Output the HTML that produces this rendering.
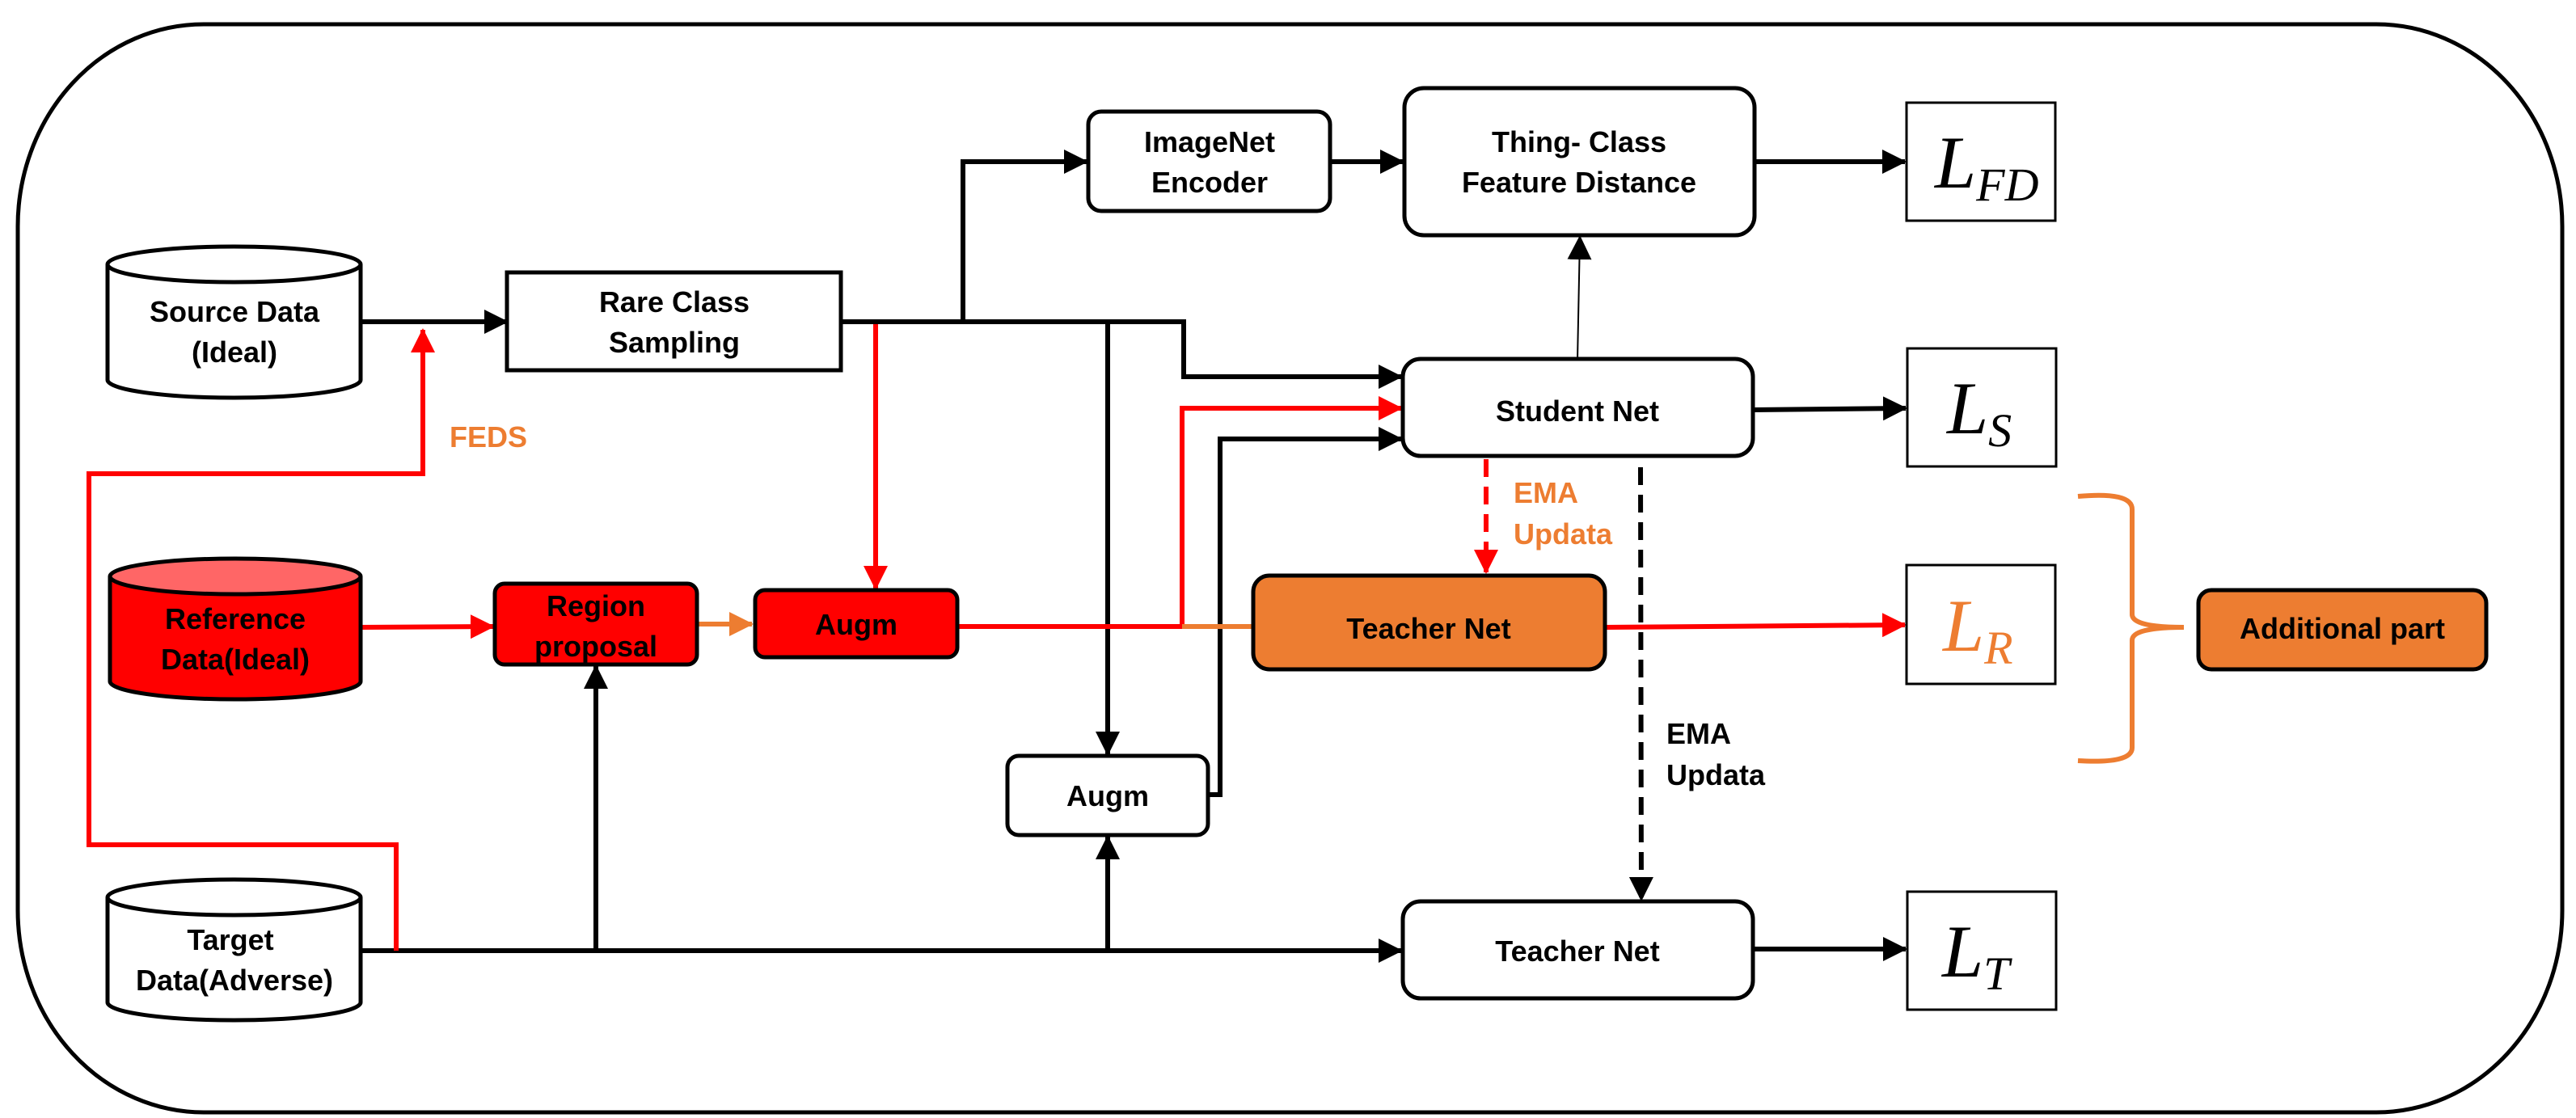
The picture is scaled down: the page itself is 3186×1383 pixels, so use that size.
<!DOCTYPE html>
<html><head><meta charset="utf-8"><style>
html,body{margin:0;padding:0;background:#fff;}
svg{display:block;}
text{font-family:"Liberation Sans",sans-serif;font-weight:bold;}
.m{font-family:"Liberation Serif",serif;font-style:italic;font-weight:normal;}
</style></head><body>
<svg width="3186" height="1383" viewBox="0 0 3186 1383" xmlns="http://www.w3.org/2000/svg">
<defs>
<marker id="ab" markerUnits="userSpaceOnUse" markerWidth="30" markerHeight="30" refX="28" refY="15" orient="auto"><path d="M0,0 L30,15 L0,30 Z" fill="#000"/></marker>
<marker id="ar" markerUnits="userSpaceOnUse" markerWidth="30" markerHeight="30" refX="28" refY="15" orient="auto"><path d="M0,0 L30,15 L0,30 Z" fill="#f00"/></marker>
<marker id="ao" markerUnits="userSpaceOnUse" markerWidth="30" markerHeight="30" refX="28" refY="15" orient="auto"><path d="M0,0 L30,15 L0,30 Z" fill="#ed7d31"/></marker>
</defs>
<!-- outer -->
<rect x="22" y="30" width="3147" height="1346" rx="230" ry="250" fill="none" stroke="#000" stroke-width="5"/>

<!-- connectors black -->
<g fill="none" stroke="#000" stroke-width="6">
<line x1="446" y1="398" x2="627" y2="398" marker-end="url(#ab)"/>
<polyline points="1040,398 1464,398 1464,466 1733,466" marker-end="url(#ab)"/>
<polyline points="1191,398 1191,200 1344,200" marker-end="url(#ab)"/>
<line x1="1370" y1="398" x2="1370" y2="933" marker-end="url(#ab)"/>
<polyline points="1494,983 1509,983 1509,543 1733,543" marker-end="url(#ab)"/>
<line x1="446" y1="1176" x2="1733" y2="1176" marker-end="url(#ab)"/>
<line x1="737" y1="1176" x2="737" y2="824" marker-end="url(#ab)"/>
<line x1="1370" y1="1176" x2="1370" y2="1035" marker-end="url(#ab)"/>
<line x1="1645" y1="200" x2="1735" y2="200" marker-end="url(#ab)"/>
<line x1="2170" y1="200" x2="2356" y2="200" marker-end="url(#ab)"/>
<line x1="2168" y1="507" x2="2357" y2="505" marker-end="url(#ab)"/>
<line x1="2168" y1="1174" x2="2357" y2="1174" marker-end="url(#ab)"/>
<line x1="2029" y1="578" x2="2030" y2="1113" stroke-dasharray="22,12" marker-end="url(#ab)"/>
</g>
<line x1="1951" y1="446" x2="1954" y2="293" stroke="#000" stroke-width="2" marker-end="url(#ab)"/>

<!-- red connectors -->
<g fill="none" stroke="#f00" stroke-width="6">
<polyline points="490,1176 490,1045 110,1045 110,586 523,586 523,408" marker-end="url(#ar)"/>
<line x1="446" y1="776" x2="610" y2="775" marker-end="url(#ar)"/>
<line x1="1083" y1="401" x2="1083" y2="728" marker-end="url(#ar)"/>
<polyline points="1184,775 1462,775 1462,505 1733,505" marker-end="url(#ar)"/>
<line x1="1838" y1="568" x2="1838" y2="708" stroke-dasharray="22,12" marker-end="url(#ar)"/>
<line x1="1985" y1="776" x2="2356" y2="773" marker-end="url(#ar)"/>
</g>
<g fill="none" stroke="#ed7d31" stroke-width="6">
<line x1="862" y1="772" x2="930" y2="772" marker-end="url(#ao)"/>
<line x1="1462" y1="775" x2="1552" y2="775"/>
<path d="M2570,614 Q2637,608 2637,630 L2637,760 Q2637,776 2701,776 Q2637,776 2637,792 L2637,925 Q2637,945 2570,941"/>
</g>

<!-- cylinders -->
<g stroke="#000" stroke-width="5">
<path d="M133,327 L133,470 A156.5,22 0 0 0 446,470 L446,327" fill="#fff"/>
<ellipse cx="289.5" cy="327" rx="156.5" ry="22" fill="#fff"/>
<path d="M136,713 L136,843 A155,22 0 0 0 446,843 L446,713" fill="#f00"/>
<ellipse cx="291" cy="713" rx="155" ry="22" fill="#ff6666"/>
<path d="M133,1110 L133,1240 A156.5,22 0 0 0 446,1240 L446,1110" fill="#fff"/>
<ellipse cx="289.5" cy="1110" rx="156.5" ry="22" fill="#fff"/>
</g>

<!-- boxes -->
<g stroke="#000" stroke-width="5">
<rect x="627" y="337" width="413" height="121" fill="#fff"/>
<rect x="612" y="722" width="250" height="100" rx="12" fill="#f00"/>
<rect x="934" y="730" width="250" height="83" rx="12" fill="#f00"/>
<rect x="1246" y="935" width="248" height="98" rx="14" fill="#fff"/>
<rect x="1346" y="138" width="299" height="123" rx="16" fill="#fff"/>
<rect x="1737" y="109" width="433" height="182" rx="24" fill="#fff"/>
<rect x="1735" y="444" width="433" height="120" rx="22" fill="#fff"/>
<rect x="1550" y="712" width="435" height="116" rx="20" fill="#ed7d31"/>
<rect x="1735" y="1115" width="433" height="120" rx="22" fill="#fff"/>
<rect x="2719" y="730" width="356" height="98" rx="16" fill="#ed7d31"/>
</g>
<g stroke="#000" stroke-width="3" fill="#fff">
<rect x="2358" y="127" width="184" height="146"/>
<rect x="2359" y="431" width="184" height="146"/>
<rect x="2358" y="699" width="184" height="147"/>
<rect x="2359" y="1103" width="184" height="146"/>
</g>

<!-- text -->
<g font-size="36" text-anchor="middle" fill="#000">
<text x="290" y="398">Source Data</text>
<text x="290" y="448">(Ideal)</text>
<text x="291" y="778">Reference</text>
<text x="291" y="828">Data(Ideal)</text>
<text x="285" y="1175">Target</text>
<text x="290" y="1225">Data(Adverse)</text>
<text x="834" y="386">Rare Class</text>
<text x="834" y="436">Sampling</text>
<text x="737" y="762">Region</text>
<text x="737" y="812">proposal</text>
<text x="1059" y="785">Augm</text>
<text x="1370" y="997">Augm</text>
<text x="1496" y="188">ImageNet</text>
<text x="1496" y="238">Encoder</text>
<text x="1953" y="188">Thing- Class</text>
<text x="1953" y="238">Feature Distance</text>
<text x="1951" y="521">Student Net</text>
<text x="1767" y="790">Teacher Net</text>
<text x="1951" y="1189">Teacher Net</text>
<text x="2897" y="790">Additional part</text>
</g>
<g font-size="36" fill="#ed7d31">
<text x="556" y="553">FEDS</text>
<text x="1872" y="622">EMA</text>
<text x="1872" y="673">Updata</text>
</g>
<g font-size="36" fill="#000">
<text x="2061" y="920">EMA</text>
<text x="2061" y="971">Updata</text>
</g>
<g class="m" fill="#000">
<text x="2393" y="232" font-size="92" class="m">L<tspan font-size="58" dy="16">FD</tspan></text>
<text x="2408" y="536" font-size="92" class="m">L<tspan font-size="58" dy="16">S</tspan></text>
<text x="2402" y="1208" font-size="92" class="m">L<tspan font-size="58" dy="16">T</tspan></text>
</g>
<text x="2403" y="805" font-size="92" class="m" fill="#ed7d31">L<tspan font-size="58" dy="16">R</tspan></text>
</svg>
</body></html>
